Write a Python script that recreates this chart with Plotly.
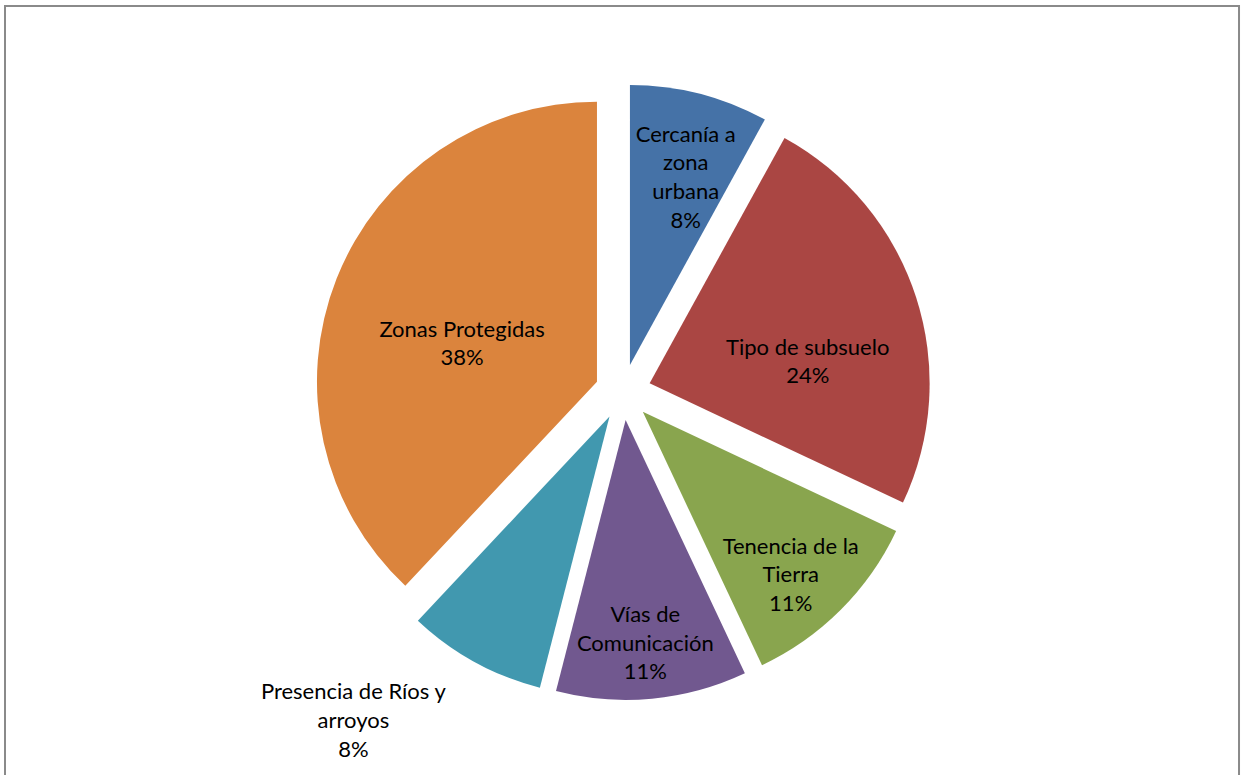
import plotly.graph_objects as go

labels = ["Cercanía a<br>zona<br>urbana", "Tipo de subsuelo", "Tenencia de la<br>Tierra",
          "Vías de<br>Comunicación", "Presencia de Ríos y<br>arroyos", "Zonas Protegidas"]
values = [8, 24, 11, 11, 8, 38]
colors = ["#4572A7", "#AA4643", "#89A54E", "#71588F", "#4198AF", "#DB843D"]
positions = ["inside", "inside", "inside", "inside", "outside", "inside"]
base = "%{label}<br>%{percent:.0%}"
templates = ["\u00a0<br>\u00a0<br>" + base, "\u00a0<br>\u00a0<br>" + base,
             "\u00a0<br>" + base, "\u00a0<br>" + base,
             "\u00a0<br>" + base, "\u00a0<br>" + base]

fig = go.Figure(go.Pie(
    labels=labels,
    values=values,
    sort=False,
    direction="clockwise",
    rotation=0,
    pull=[0.1] * len(values),
    marker=dict(colors=colors, line=dict(width=0)),
    texttemplate=templates,
    textposition=positions,
    insidetextorientation="horizontal",
    textfont=dict(family="Lato", size=22, color="black"),
    hoverinfo="label+percent",
    showlegend=False,
))

fig.update_layout(
    width=1241, height=775,
    margin=dict(l=5, r=0, t=84, b=75, autoexpand=False),
    paper_bgcolor="white",
    uniformtext=dict(mode="show", minsize=22),
    shapes=[dict(type="rect", xref="paper", yref="paper",
                 x0=0, x1=0.9984, y0=-0.2, y1=1.1266,
                 line=dict(color="#8a8a8a", width=2))],
)

fig.write_html("out.html", config={"displayModeBar": False},
               post_script="document.body.style.margin='0';")
